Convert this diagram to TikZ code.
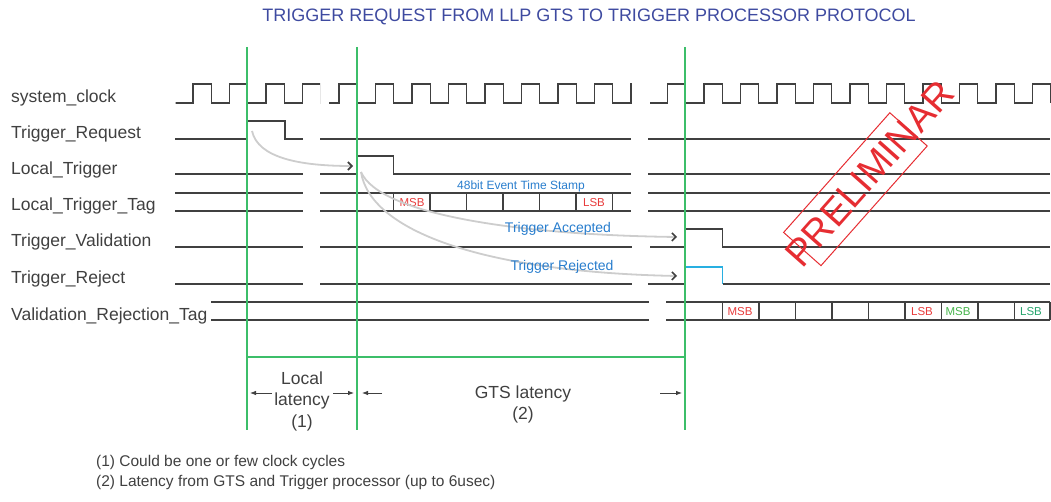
\documentclass[tikz,border=0pt]{standalone}
\usepackage{fontspec}
\setmainfont{Liberation Sans}
\usetikzlibrary{positioning,arrows.meta,calc}
\definecolor{wave}{RGB}{64,64,64}
\definecolor{cursor}{RGB}{60,190,105}
\definecolor{titleblue}{RGB}{62,74,160}
\definecolor{noteblue}{RGB}{40,125,205}
\definecolor{tagred}{RGB}{232,60,60}
\definecolor{taggreen}{RGB}{70,180,75}
\definecolor{taggreenb}{RGB}{40,165,110}
\definecolor{rejcyan}{RGB}{40,175,225}
\definecolor{stampred}{RGB}{230,45,50}
\definecolor{flowgray}{RGB}{205,205,205}

\tikzset{
  sig/.style={draw=wave, line width=1.4pt},
  marker/.style={draw=cursor, line width=1.3pt},
  siglabel/.style={anchor=base west, inner sep=0pt, text=wave, font=\fontsize{17.5}{20}\selectfont},
  bitlabel/.style={inner sep=0pt, font=\fontsize{11.5}{13}\selectfont},
  flow/.style={draw=flowgray, line width=1.8pt, -{Straight Barb[color=wave, length=4pt, width=8pt, line width=1.6pt]}},
  latarrow/.style={draw=wave, line width=0.8pt, -{Latex[length=6pt,width=4.5pt]}},
  latlabel/.style={align=center, inner sep=0pt, text=wave, font=\fontsize{17.5}{21.5}\selectfont},
}

\begin{document}
\begin{tikzpicture}[x=1pt,y=-1pt]
\useasboundingbox (0,0) rectangle (1051,502);

\node[text=titleblue, font=\fontsize{18}{20}\selectfont] (title) at (589,17) {TRIGGER REQUEST FROM LLP GTS TO TRIGGER PROCESSOR PROTOCOL};

%signal names
\node[siglabel] (lclk) at (11,103) {system\_clock};
\node[siglabel] (lreq) at (11,139) {Trigger\_Request};
\node[siglabel] (llt) at (11,175) {Local\_Trigger};
\node[siglabel] (ltag) at (11,211) {Local\_Trigger\_Tag};
\node[siglabel] (lval) at (11,247) {Trigger\_Validation};
\node[siglabel] (lrej) at (11,284) {Trigger\_Reject};
\node[siglabel] (lvrt) at (11,320) {Validation\_Rejection\_Tag};

%clock, cut in three pieces
\foreach \a/\b in {175.6/320,329/631.8,650/1051}{
  \begin{scope}
    \clip (\a,78) rectangle (\b,108);
    \draw[sig] (174.75,103) \foreach \k in {1,...,24}{ -- ++(18.25,0) -- ++(0,-19) -- ++(18.25,0) -- ++(0,19)};
  \end{scope}
}

%Trigger_Request
\draw[sig] (175,139) -- (247,139) -- (247,121) -- (285,121) -- (285,139) -- (303,139);
\draw[sig] (320,139) -- (631,139);
\draw[sig] (648,139) -- (1050,139);

%Local_Trigger
\draw[sig] (175,174) -- (303,174);
\draw[sig] (320,174) -- (357,174) -- (357,156) -- (393.5,156) -- (393.5,174) -- (631,174);
\draw[sig] (648,174) -- (1050,174);

%Local_Trigger_Tag
\foreach \y in {193,211}{
  \draw[sig] (175,\y) -- (303,\y);
  \draw[sig] (320,\y) -- (631,\y);
  \draw[sig] (648,\y) -- (1050,\y);
}
\foreach \x in {393.5,430,466.5,503,539.5,576,612.5}
  \draw[sig] (\x,193) -- (\x,211);
\node[bitlabel, text=tagred] (tmsb) at (412,202.5) {MSB};
\node[bitlabel, text=tagred] (tlsb) at (594,202.5) {LSB};
\node[inner sep=0pt, text=noteblue, font=\fontsize{12}{14}\selectfont] (tstamp) at (521,186) {48bit Event Time Stamp};

%Trigger_Validation
\draw[sig] (175,247) -- (303,247);
\draw[sig] (320,247) -- (632,247);
\draw[sig] (650,247) -- (685,247) -- (685,229) -- (722.5,229) -- (722.5,247) -- (1050,247);

%Trigger_Reject
\draw[sig] (175,284) -- (303,284);
\draw[sig] (320,284) -- (632,284);
\draw[sig] (648,284) -- (685,284);
\draw[sig, draw=rejcyan] (685,284) -- (685,267) -- (722.5,267) -- (722.5,284);
\draw[sig] (722.5,284) -- (1050,284);

%Validation_Rejection_Tag
\foreach \y in {302,320}{
  \draw[sig] (211,\y) -- (649,\y);
  \draw[sig] (666,\y) -- (1050,\y);
}
\foreach \x in {722.5,759,795.5,832,868.5,905,941.5,978,1014.5,1050}
  \draw[sig] (\x,302) -- (\x,320);
\node[bitlabel, text=tagred] (vmsb) at (740,311.5) {MSB};
\node[bitlabel, text=tagred] (vlsb) at (922,311.5) {LSB};
\node[bitlabel, text=taggreen] (vmsbb) at (958,311.5) {MSB};
\node[bitlabel, text=taggreenb] (vlsbb) at (1031,311.5) {LSB};

%time markers
\foreach \x in {247,357,685}
  \draw[marker] (\x,47) -- (\x,430);
\draw[marker] (247,357) -- (685,357);

%latencies
\node[latlabel] (loclat) at (302,401) {Local\\latency\\(1)};
\node[latlabel] (gtslat) at (523,404.5) {GTS latency\\(2)};
\coordinate (locA) at (272,393);
\coordinate (locB) at (250,393);
\coordinate (locC) at (333,393);
\coordinate (locD) at (354,393);
\coordinate (gtsA) at (382,393);
\coordinate (gtsB) at (362,393);
\coordinate (gtsC) at (660,393);
\coordinate (gtsD) at (682,393);
\draw[latarrow] (locA) -- (locB);
\draw[latarrow] (locC) -- (locD);
\draw[latarrow] (gtsA) -- (gtsB);
\draw[latarrow] (gtsC) -- (gtsD);

%request -> local trigger -> validation / reject
\coordinate (reqon) at (252,131);
\coordinate (lton) at (353,166);
\coordinate (ltfrom) at (361,172);
\coordinate (valon) at (677,237);
\coordinate (rejon) at (677,276);
\draw[flow] (reqon) .. controls (258,158) and (300,166) .. (lton);
\draw[flow] (ltfrom) .. controls (380,215) and (520,235) .. (valon);
\draw[flow] (ltfrom) .. controls (370,230) and (480,272) .. (rejon);
\node[inner sep=0pt, text=noteblue, font=\fontsize{14}{16}\selectfont] (acc) at (558,229) {Trigger Accepted};
\node[inner sep=0pt, text=noteblue, font=\fontsize{14}{16}\selectfont] (rej) at (562,267) {Trigger Rejected};

%stamp
\node[draw=stampred, line width=1pt, minimum width=160pt, minimum height=50pt, rotate=48.4] (stamp) at (855.4,189.2) {};
\node[inner sep=0pt, text=stampred, rotate=48.4, font=\fontsize{38}{40}\selectfont] (stamptext) at ($(stamp.center)+(48.4:21pt)$) {PRELIMINAR};

%notes
\node[anchor=west, inner sep=0pt, text=wave, font=\fontsize{15.5}{18}\selectfont] (note1) at (96,462) {(1) Could be one or few clock cycles};
\node[anchor=west, inner sep=0pt, text=wave, font=\fontsize{15.5}{18}\selectfont] (note2) at (96,482) {(2) Latency from GTS and Trigger processor (up to 6usec)};
\end{tikzpicture}
\end{document}
